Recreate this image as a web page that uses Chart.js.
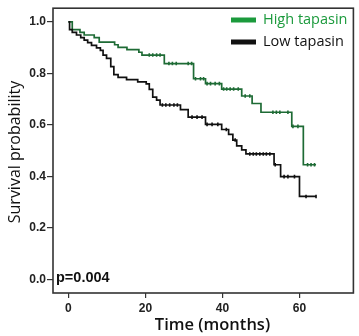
<!DOCTYPE html>
<html>
<head>
<meta charset="utf-8">
<script src="https://cdn.jsdelivr.net/npm/chart.js@4.4.1/dist/chart.umd.min.js"></script>
<style>
html,body{margin:0;padding:0;background:#fff;}
#wrap{position:relative;width:359px;height:336px;}
</style>
</head>
<body>
<div id="wrap"><canvas id="c" width="359" height="336"></canvas></div>
<script>
// ---- data ----
const seriesNames = ["High tapasin", "Low tapasin"];
const xTicks = [0, 20, 40, 60];
const yTicks = [0.0, 0.2, 0.4, 0.6, 0.8, 1.0];
const xTitle = "Time (months)";
const yTitle = "Survival probability";
const pValueText = "p=0.004";

// High tapasin: step times (months) and survival after each step
const highTimes = [0, 1.0, 3.0, 4.1, 6.7, 8.0, 12.0, 12.9, 15.2, 18.3, 19.1, 24.9, 32.5, 35.6, 39.8, 45.0, 47.7, 50.0, 58.0, 61.0, 64.3];
const highSurv  = [1.0, 0.970, 0.959, 0.949, 0.939, 0.921, 0.911, 0.901, 0.892, 0.882, 0.871, 0.838, 0.779, 0.760, 0.739, 0.712, 0.683, 0.649, 0.594, 0.445, 0.445];
const highCensor = [21.0, 21.9, 22.9, 23.8, 26.1, 27.0, 28.0, 31.1, 32.0, 33.0, 34.3, 35.1, 36.0, 36.9, 38.1, 39.2, 40.3, 41.1, 42.0, 42.9, 44.1, 45.9, 47.1, 53.1, 54.0, 54.9, 57.0, 58.3, 59.6, 62.1, 63.0, 63.9];

// Low tapasin
const lowTimes = [0, 0.3, 1.0, 2.1, 3.2, 4.1, 5.0, 6.0, 7.3, 8.3, 9.0, 9.9, 11.0, 11.8, 12.9, 15.1, 18.0, 20.2, 21.0, 21.9, 22.9, 23.8, 29.1, 31.1, 35.6, 39.8, 41.6, 42.7, 43.7, 45.0, 46.1, 53.4, 55.1, 60.0, 64.3];
const lowSurv  = [1.0, 0.970, 0.959, 0.949, 0.939, 0.929, 0.919, 0.909, 0.899, 0.889, 0.871, 0.858, 0.826, 0.795, 0.784, 0.776, 0.767, 0.759, 0.738, 0.708, 0.696, 0.677, 0.659, 0.630, 0.602, 0.582, 0.563, 0.541, 0.518, 0.503, 0.487, 0.445, 0.399, 0.322, 0.322];
const lowCensor = [24.4, 25.3, 26.3, 27.4, 28.3, 32.1, 33.4, 34.7, 36.0, 37.3, 38.8, 41.0, 43.3, 47.1, 48.0, 48.8, 49.7, 50.6, 51.4, 52.3, 53.7, 56.0, 57.0, 58.7, 61.7, 64.3];

// ---- build chart data ----
const GREEN = "#1e6b35";
const GREEN_TXT = "#1b9a3c";
const BLACK = "#111111";

function pts(ts, ss){ return ts.map((t,i)=>({x:t, y:ss[i]})); }
function survAt(ts, ss, t){ let s = ss[0]; for(let i=0;i<ts.length;i++){ if(ts[i] <= t) s = ss[i]; } return s; }
function censorPts(cs, ts, ss){ return cs.map(t=>({x:t, y:survAt(ts, ss, t)})); }

const overlay = {
  id: 'overlay',
  afterDatasetsDraw(chart){
    const ctx = chart.ctx, a = chart.chartArea;
    ctx.save();
    // frame
    ctx.strokeStyle = "#333";
    ctx.lineWidth = 1.6;
    ctx.strokeRect(a.left, a.top, a.right - a.left, a.bottom - a.top);
    // legend
    const items = [[seriesNames[0], GREEN_TXT, GREEN_TXT, 20],[seriesNames[1], BLACK, BLACK, 42]];
    ctx.font = "14.5px 'Open Sans'";
    ctx.textBaseline = "middle";
    items.forEach(([txt, lc, tc, y])=>{
      ctx.fillStyle = lc;
      ctx.fillRect(231, y - 2.5, 25, 5);
      ctx.fillStyle = tc;
      ctx.fillText(txt, 263, y);
    });
    // p value
    ctx.font = "bold 14.5px 'Liberation Sans'";
    ctx.fillStyle = "#111";
    ctx.textBaseline = "alphabetic";
    ctx.fillText(pValueText, 56, 282);
    // axis titles
    ctx.fillStyle = "#111";
    ctx.textAlign = "center";
    ctx.textBaseline = "middle";
    ctx.font = "600 16.5px 'Open Sans'";
    ctx.fillText(xTitle, 212.5, 325);
    ctx.save();
    ctx.translate(15, 152);
    ctx.rotate(-Math.PI/2);
    ctx.font = "16px 'Open Sans'";
    ctx.fillText(yTitle, 0, 0);
    ctx.restore();
    ctx.restore();
  }
};

new Chart(document.getElementById('c'), {
  type: 'line',
  data: {
    datasets: [
      { label: seriesNames[0], data: pts(highTimes, highSurv), stepped: 'before', borderColor: GREEN, borderWidth: 1.7, pointRadius: 0, fill: false, order: 2 },
      { label: seriesNames[1], data: pts(lowTimes, lowSurv), stepped: 'before', borderColor: BLACK, borderWidth: 1.7, pointRadius: 0, fill: false, order: 1 },
      { label: 'hc', type: 'scatter', data: censorPts(highCensor, highTimes, highSurv), pointStyle: 'line', rotation: 90, radius: 1.8, borderColor: GREEN, borderWidth: 1.6, showLine: false },
      { label: 'lc', type: 'scatter', data: censorPts(lowCensor, lowTimes, lowSurv), pointStyle: 'line', rotation: 90, radius: 1.8, borderColor: BLACK, borderWidth: 1.6, showLine: false }
    ]
  },
  options: {
    responsive: false,
    animation: false,
    layout: { padding: { top: 2, right: 3, left: 0, bottom: 0 } },
    plugins: { legend: { display: false }, tooltip: { enabled: false } },
    scales: {
      x: {
        type: 'linear', min: -4, max: 74,
        afterBuildTicks: s => { s.ticks = xTicks.map(v=>({value:v})); },
        afterFit: s => { s.height = 43; },
        grid: { display: true, drawOnChartArea: false, drawTicks: true, tickLength: 5, color: '#333', lineWidth: 1.2 },
        border: { display: false },
        ticks: { color: '#222', font: { family: 'Liberation Sans', size: 12, weight: 'bold' }, padding: 3, maxRotation: 0 },
        title: { display: false }
      },
      y: {
        type: 'linear', min: -0.053, max: 1.053,
        afterBuildTicks: s => { s.ticks = yTicks.map(v=>({value:v})); },
        afterFit: s => { s.width = 53; },
        grid: { display: true, drawOnChartArea: false, drawTicks: true, tickLength: 6, color: '#333', lineWidth: 1.2 },
        border: { display: false },
        ticks: { color: '#222', font: { family: 'Liberation Sans', size: 12, weight: 'bold' }, padding: 1, callback: v => v.toFixed(1) },
        title: { display: false }
      }
    }
  },
  plugins: [overlay]
});
</script>
</body>
</html>
